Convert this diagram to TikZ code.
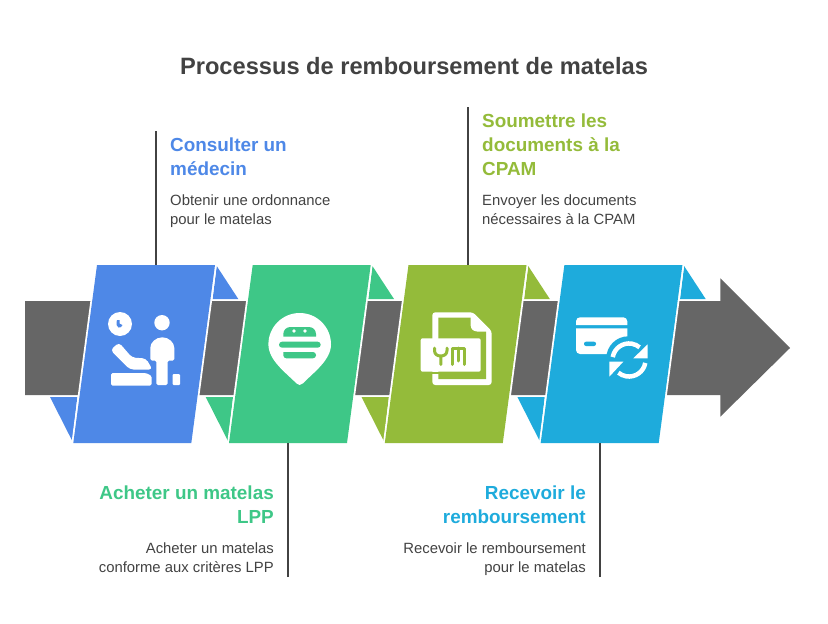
\documentclass[tikz,border=0pt]{standalone}
\usepackage{fontspec}
\setmainfont{Liberation Sans}

\definecolor{stepblue}{HTML}{4E88E7}
\definecolor{stepgreen}{HTML}{3EC787}
\definecolor{stepolive}{HTML}{94BB3A}
\definecolor{stepcyan}{HTML}{1EABDC}
\definecolor{bandgray}{HTML}{666666}
\definecolor{textgray}{HTML}{424242}

\tikzset{
  leader/.style={draw=textgray, line width=1.8pt},
  stepbox/.style={preaction={draw=white, line width=3.6pt}},
  headtext/.style={font=\fontsize{18.9}{24}\selectfont\bfseries, inner sep=0pt},
  bodytext/.style={font=\fontsize{14.85}{18.3}\selectfont, text=textgray, inner sep=0pt},
}

\begin{document}
\begin{tikzpicture}[x=1pt, y=-1pt]
\useasboundingbox (0,0) rectangle (828,624);

% Titel
\node[font=\fontsize{23.65}{29}\selectfont\bfseries, text=textgray, inner sep=0pt] (title) at (414,66) {Processus de remboursement de matelas};

% Pfeil
\fill[bandgray] (25,301) -- (720.3,301) -- (720.3,278.3) -- (790,348) -- (720.3,416.7) -- (720.3,395) -- (25,395) -- cycle;

% Schritte
\foreach \col/\dx/\name in {stepblue/0/one, stepgreen/155.7/two, stepolive/311.5/three, stepcyan/467.4/four} {
  \begin{scope}[xshift=\dx pt]
    \fill[\col] (216.7,266) -- (238.3,299) -- (212.7,299) -- cycle; % oben
    \fill[\col] (50,397) -- (77.3,397) -- (72.3,441) -- cycle; % unten
    \fill[\col, stepbox] (97,265) -- (215,265) -- (191.3,443) -- (73.3,443) -- cycle;
  \end{scope}
}

% Linien
\coordinate (endone) at (156,131);
\coordinate (stepone) at (156,265);
\coordinate (endtwo) at (288,577);
\coordinate (steptwo) at (288,443);
\coordinate (endthree) at (468,107);
\coordinate (stepthree) at (468,265);
\coordinate (endfour) at (600,577);
\coordinate (stepfour) at (600,443);
\draw[leader] (endone) -- (stepone);
\draw[leader] (endtwo) -- (steptwo);
\draw[leader] (endthree) -- (stepthree);
\draw[leader] (endfour) -- (stepfour);

% Texte
\node[headtext, text=stepblue, anchor=north west, align=left] (headone) at (170,137.7) {Consulter un\\médecin};
\node[bodytext, anchor=north west, align=left] (bodyone) at (170,195) {Obtenir une ordonnance\\pour le matelas};
\node[headtext, text=stepolive, anchor=north west, align=left] (headthree) at (482,113.7) {Soumettre les\\documents à la\\CPAM};
\node[bodytext, anchor=north west, align=left] (bodythree) at (482,195) {Envoyer les documents\\nécessaires à la CPAM};
\node[headtext, text=stepgreen, anchor=north east, align=right] (headtwo) at (274,485.7) {Acheter un matelas\\LPP};
\node[bodytext, anchor=north east, align=right] (bodytwo) at (274,543) {Acheter un matelas\\conforme aux critères LPP};
\node[headtext, text=stepcyan, anchor=north east, align=right] (headfour) at (586,485.7) {Recevoir le\\remboursement};
\node[bodytext, anchor=north east, align=right] (bodyfour) at (586,543) {Recevoir le remboursement\\pour le matelas};

% Icon Arzt
\fill[white] (120,324) circle (12);
\fill[stepblue] (117,320) -- (119.5,320) -- (119.5,323.5) -- (122.5,325) .. controls (122,327) and (120,328) .. (118.5,327.5) .. controls (116.5,327) and (116,324) .. cycle;
\fill[white] (162,322.7) circle (7.7);
\fill[white, rounded corners=1.5pt] (150.3,360.5) -- (150.3,349.3) arc (180:360:12) -- (174.3,360.5) -- (167.7,360.5) -- (167.7,385) -- (156.3,385) -- (156.3,360.5) -- cycle;
\fill[white, rounded corners=3.5pt] (110.5,350) -- (119,342.5) -- (132,357.5) -- (146,358.5) -- (152.5,369.5) -- (130,369.5) -- cycle;
\fill[white, rounded corners=1.5pt] (111,373) -- (146,373) -- (151.7,376) -- (151.7,385.5) -- (111,385.5) -- cycle;
\fill[white, rounded corners=1pt] (172.7,374) -- (180,374) -- (180,385) -- (172.7,385) -- cycle;

% Icon Burger
\fill[white] (299.7,385) .. controls (298.5,385) and (297.5,384.4) .. (296.5,383.4) .. controls (285,372) and (268.4,360) .. (268.4,344.3) arc (180:360:31.3) .. controls (331,360) and (314,372) .. (302.9,383.4) .. controls (301.9,384.4) and (300.9,385) .. (299.7,385) -- cycle;
\fill[stepgreen] (283.3,336.7) -- (283.3,334) arc (180:270:7) -- (309,327) arc (270:360:7) -- (316,336.7) -- cycle;
\fill[stepgreen, rounded corners=3pt] (279,341.7) rectangle (320.7,347.7);
\fill[stepgreen] (283.3,352) [rounded corners=3pt] -- (316,352) -- (316,358.3) -- (283.3,358.3) [sharp corners] -- cycle;
\fill[white] (294,331) circle (1.9);
\fill[white] (305,331) circle (1.9);

% Icon Dokument
\fill[white, rounded corners=3pt] (432.3,312.3) -- (473,312.3) -- (491.7,331) -- (491.7,385) -- (432.3,385) -- cycle;
\fill[stepolive] (438.3,317.7) -- (470.5,317.7) -- (470.5,325) .. controls (470.5,329) and (473,331.5) .. (477,331.5) -- (486,331.5) -- (486,379) -- (438.3,379) -- cycle;
\fill[stepolive] (432,371.7) rectangle (440,374);
\fill[white, rounded corners=2pt] (420.7,338.3) rectangle (480.7,371.7);
\draw[stepolive, line width=3pt, line cap=round, line join=round] (434.5,348) -- (434.5,350.5) .. controls (434.5,354) and (437,356) .. (440.8,356) .. controls (444.5,356) and (447,354) .. (447,350.5) -- (447,348) (440.8,356) -- (440.8,364.5);
\draw[stepolive, line width=3pt, line cap=round, line join=round] (452.5,364.5) -- (452.5,348) -- (464,348) -- (464,364.5) (458.2,348) -- (458.2,361);

% Icon Karte
\fill[white] (576,325) [rounded corners=4pt] -- (576,317.3) -- (627.3,317.3) [sharp corners] -- (627.3,325) -- cycle;
\fill[white] (576,328.3) -- (627.3,328.3) -- (627.3,354) [rounded corners=4pt] -- (576,354) [sharp corners] -- cycle;
\fill[stepcyan] (628.3,358.3) circle (22);
\fill[stepcyan, rounded corners=2pt] (584,341.7) rectangle (596,346);
\draw[white, line width=4.5pt] (612.75,357.1) arc (190:310:16.5);
\draw[white, line width=4.5pt] (645.25,362.9) arc (10:130:16.5);
\fill[white] (647.7,344.3) -- (647.7,358.3) -- (633.3,358.3) -- cycle;
\fill[white] (609.3,361.7) -- (623.3,361.7) -- (609.3,376.7) -- cycle;

\end{tikzpicture}
\end{document}
